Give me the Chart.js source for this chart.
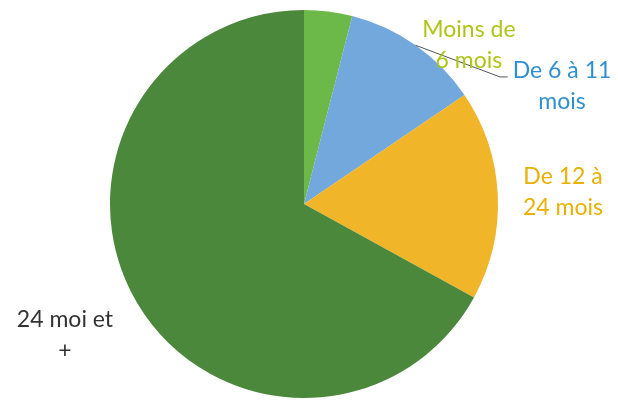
<!DOCTYPE html>
<html>
<head>
<meta charset="utf-8">
<script src="https://cdn.jsdelivr.net/npm/chart.js@4/dist/chart.umd.min.js"></script>
<style>
  html, body { margin: 0; padding: 0; background: #fff; }
  #wrap { width: 618px; height: 403px; position: relative; }
</style>
</head>
<body>
<div id="wrap"><canvas id="pieChart"></canvas></div>
<script>
// ==========================
// Data
// ==========================
const categories = ["Moins de 6 mois", "De 6 à 11 mois", "De 12 à 24 mois", "24 moi et +"];
const shares = [4, 11.5, 17.5, 67];
const sliceColors = ["#6cb848", "#72a8dc", "#f1b52a", "#4b883c"];

// label lines as printed, colour, and anchor relative to centre (in radius units)
const labelLines = [["Moins de", "6 mois"], ["De 6 à 11", "mois"], ["De 12 à", "24 mois"], ["24 moi et", "+"]];
const labelColors = ["#adc618", "#2f8fd0", "#e9b000", "#333333"];
const labelAnchors = [[0.85, -0.9], [1.33, -0.69], [1.335, -0.139], [-1.232, 0.598]];

// ==========================
// Labels + leader line plugin
// ==========================
const sliceLabels = {
  id: "sliceLabels",
  afterDatasetsDraw(chart) {
    const ctx = chart.ctx;
    const arc = chart.getDatasetMeta(0).data[0];
    const cx = arc.x, cy = arc.y, r = arc.outerRadius;

    // leader line for the blue slice
    const blue = chart.getDatasetMeta(0).data[1];
    const mid = (blue.startAngle + blue.endAngle) / 2;
    const sx = cx + Math.cos(mid) * r;
    const sy = cy + Math.sin(mid) * r;
    ctx.save();
    ctx.strokeStyle = "#555";
    ctx.lineWidth = 1;
    ctx.beginPath();
    ctx.moveTo(sx, sy);
    ctx.lineTo(cx + 1.01 * r, cy - 0.655 * r);
    ctx.lineTo(cx + 1.05 * r, cy - 0.655 * r);
    ctx.stroke();

    ctx.font = "23px Lato, 'Open Sans', sans-serif";
    ctx.textAlign = "center";
    ctx.textBaseline = "middle";
    labelLines.forEach((lines, i) => {
      const x = cx + labelAnchors[i][0] * r;
      const y = cy + labelAnchors[i][1] * r;
      ctx.fillStyle = labelColors[i];
      lines.forEach((t, j) => ctx.fillText(t, x, y + j * 31));
    });
    ctx.restore();
  }
};

const ctx = document.getElementById("pieChart").getContext("2d");
new Chart(ctx, {
  type: "pie",
  data: {
    labels: categories,
    datasets: [{
      data: shares,
      backgroundColor: sliceColors,
      borderWidth: 0
    }]
  },
  options: {
    responsive: true,
    maintainAspectRatio: false,
    animation: false,
    layout: { padding: { top: 10, bottom: 5, left: 0, right: 10 } },
    plugins: {
      legend: { display: false },
      tooltip: { enabled: false }
    }
  },
  plugins: [sliceLabels]
});
</script>
</body>
</html>
